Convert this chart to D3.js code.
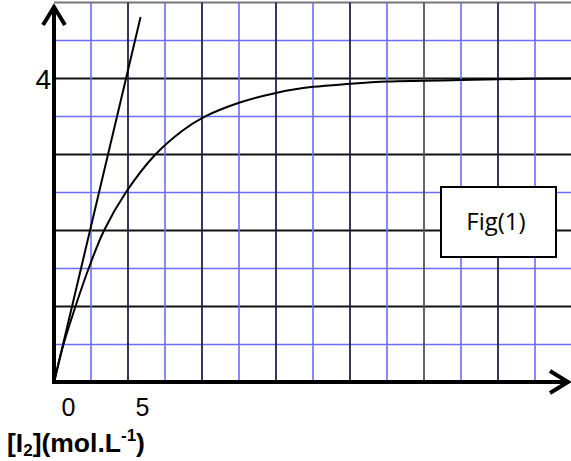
<!DOCTYPE html>
<html>
<head>
<meta charset="utf-8">
<script src="https://cdn.jsdelivr.net/npm/d3@7"></script>
<style>
  body { margin: 0; background: #fff; }
  svg { display: block; }
</style>
</head>
<body>
<div id="graph"></div>
<script>
const width = 571;
const height = 461;

// data
const curveX = [0, 0.64, 1.45, 2.34, 3.38, 4.85, 6.85, 8.72, 10, 12.5, 15, 17.5, 20, 22.5, 25, 27.5, 30, 35];
const curveY = [0, 0.5, 1.0, 1.5, 2.0, 2.5, 3.0, 3.32, 3.48, 3.68, 3.81, 3.89, 3.93, 3.96, 3.97, 3.98, 3.99, 4.0];
const tangentX = [0, 5.85];
const tangentY = [0, 4.81];
const xTicks = [0, 5];
const yTicks = [4];
const gridX = d3.range(1, 14).map(k => k * 2.5);
const gridY = d3.range(1, 11).map(k => k * 0.5);

const svg = d3.select("#graph")
  .append("svg")
  .attr("width", width)
  .attr("height", height);

// scales
const x = d3.scaleLinear().domain([0, 35]).range([54, 572]);
const y = d3.scaleLinear().domain([0, 5]).range([382.5, 2.5]);

// grid
svg.append("g")
  .selectAll("line")
  .data(gridY)
  .join("line")
  .attr("x1", x(0))
  .attr("x2", width)
  .attr("y1", d => y(d))
  .attr("y2", d => y(d))
  .attr("stroke", (d, i) => i === 9 ? "#777" : (i % 2 === 0 ? "#6b6bff" : "#111"))
  .attr("stroke-width", (d, i) => i % 2 === 0 ? 1.6 : 1.8);

svg.append("g")
  .selectAll("line")
  .data(gridX)
  .join("line")
  .attr("x1", d => x(d))
  .attr("x2", d => x(d))
  .attr("y1", y(0))
  .attr("y2", y(5))
  .attr("stroke", (d, i) => i % 2 === 0 ? "#6b6bff" : (i === 9 ? "#555" : "#22224a"))
  .attr("stroke-width", (d, i) => i % 2 === 0 ? 1.6 : 1.8);

// tangent line
const line = d3.line()
  .x(d => x(d[0]))
  .y(d => y(d[1]));

svg.append("path")
  .datum(tangentX.map((v, i) => [v, tangentY[i]]))
  .attr("d", line)
  .attr("fill", "none")
  .attr("stroke", "#000")
  .attr("stroke-width", 2);

// curve
svg.append("path")
  .datum(curveX.map((v, i) => [v, curveY[i]]))
  .attr("d", line.curve(d3.curveCatmullRom.alpha(0.5)))
  .attr("fill", "none")
  .attr("stroke", "#000")
  .attr("stroke-width", 2);

// axes
svg.append("line")
  .attr("x1", x(0)).attr("y1", y(0) - 0.5)
  .attr("x2", 569).attr("y2", y(0) - 0.5)
  .attr("stroke", "#000").attr("stroke-width", 4);
svg.append("line")
  .attr("x1", x(0)).attr("y1", y(0) + 1.5)
  .attr("x2", x(0)).attr("y2", 6)
  .attr("stroke", "#000").attr("stroke-width", 4);

// arrow heads
svg.append("path")
  .attr("d", `M${x(0) - 11},25 L${x(0)},7 L${x(0) + 11},25`)
  .attr("fill", "none").attr("stroke", "#000").attr("stroke-width", 4);
svg.append("path")
  .attr("d", `M550,${y(0) - 11.5} L568,${y(0) - 0.5} L550,${y(0) + 10.5}`)
  .attr("fill", "none").attr("stroke", "#000").attr("stroke-width", 4);

// tick labels
svg.append("g")
  .attr("transform", `translate(14,${y(0)})`)
  .call(d3.axisBottom(x).tickValues(xTicks).tickSize(0).tickPadding(16))
  .call(g => g.select(".domain").remove())
  .selectAll("text")
  .attr("font-family", "Liberation Sans, Arial, sans-serif")
  .attr("font-size", 25)
  .attr("fill", "#000");

svg.append("g")
  .attr("transform", `translate(${x(0) - 3},0)`)
  .call(d3.axisLeft(y).tickValues(yTicks).tickFormat(d3.format("d")).tickSize(0).tickPadding(0))
  .call(g => g.select(".domain").remove())
  .selectAll("text")
  .attr("font-family", "Liberation Sans, Arial, sans-serif")
  .attr("font-size", 28)
  .attr("dy", "0.35em")
  .attr("fill", "#000");

// x axis label
const lab = svg.append("text")
  .attr("x", 7)
  .attr("y", 452)
  .attr("font-family", "Liberation Sans, Arial, sans-serif")
  .attr("font-weight", "bold")
  .attr("font-size", 26.5)
  .attr("fill", "#000");
lab.append("tspan").text("[I");
lab.append("tspan").attr("font-size", 17).attr("dy", 4).text("2");
lab.append("tspan").attr("dy", -4).text("](mol.L");
lab.append("tspan").attr("font-size", 17).attr("dy", -11).text("-1");
lab.append("tspan").attr("dy", 11).text(")");

// figure box
svg.append("rect")
  .attr("x", 441).attr("y", 187)
  .attr("width", 115).attr("height", 70)
  .attr("fill", "#fff")
  .attr("stroke", "#000")
  .attr("stroke-width", 2);
svg.append("text")
  .attr("x", 496).attr("y", 222)
  .attr("dy", "0.35em")
  .attr("text-anchor", "middle")
  .attr("font-family", "Open Sans, sans-serif")
  .attr("font-size", 24)
  .attr("fill", "#000")
  .text("Fig(1)");
</script>
</body>
</html>
